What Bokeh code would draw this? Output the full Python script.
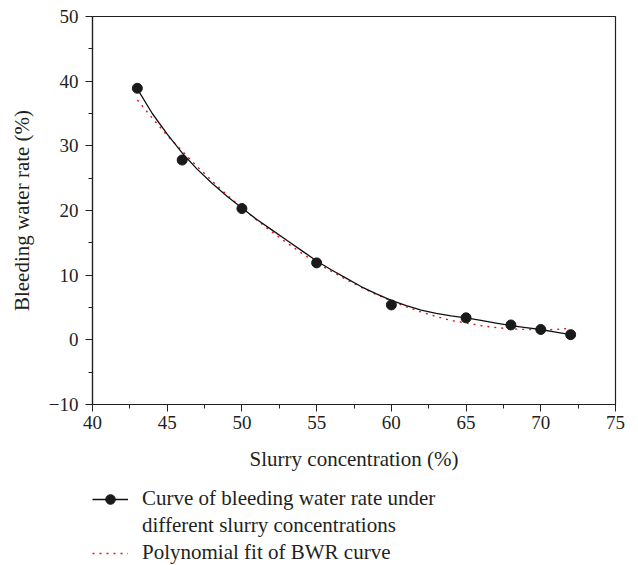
from bokeh.plotting import figure
from bokeh.layouts import column
from bokeh.models import FixedTicker, Legend, LegendItem, Range1d
from bokeh.embed import file_html
from bokeh.resources import INLINE

# measured points
conc = [43, 46, 50, 55, 60, 65, 68, 70, 72]
bwr = [38.9, 27.8, 20.3, 11.9, 5.4, 3.4, 2.3, 1.6, 0.8]

# smooth curve
curve_x = [43, 44, 45, 46, 47, 48, 49, 50, 51, 52, 53, 54, 55, 56, 57, 58,
           59, 60, 61, 62, 63, 64, 65, 66, 67, 68, 69, 70, 71, 72]
curve_y = [38.8, 35.0, 31.8, 28.9, 26.4, 24.2, 22.2, 20.4, 18.6, 17.0, 15.4,
           13.8, 12.2, 10.8, 9.5, 8.2, 7.1, 6.1, 5.3, 4.6, 4.1, 3.7, 3.4, 3.0,
           2.6, 2.2, 1.9, 1.6, 1.2, 0.8]

# polynomial fit
fit_x = curve_x
fit_y = [37.1, 34.3, 31.6, 29.2, 26.8, 24.6, 22.4, 20.4, 18.5, 16.7, 15.0,
         13.4, 11.9, 10.6, 9.3, 8.1, 7.0, 6.0, 5.1, 4.3, 3.6, 3.0, 2.6, 2.2,
         1.9, 1.7, 1.6, 1.55, 1.6, 1.8]

x_ticks = [40, 45, 50, 55, 60, 65, 70, 75]
x_minor = [42.5, 47.5, 52.5, 57.5, 62.5, 67.5, 72.5]
y_ticks = [-10, 0, 10, 20, 30, 40, 50]
y_minor = [-5, 5, 15, 25, 35, 45]

label_curve_1 = "Curve of bleeding water rate under"
label_curve_2 = "different slurry concentrations"
label_fit = "Polynomial fit of BWR curve"

FONT = "Liberation Serif"
TXT = "#231f20"
BLACK = "#111111"
RED = "#e8141c"

p = figure(width=638, height=478, output_backend="svg",
           toolbar_location=None, x_range=Range1d(40, 75), y_range=Range1d(-10, 50),
           min_border_left=92, min_border_right=23, min_border_top=16,
           min_border_bottom=74)
p.background_fill_color = "white"
p.border_fill_color = "white"
p.outline_line_color = TXT
p.outline_line_width = 1.2
p.grid.visible = False

p.xaxis.ticker = FixedTicker(ticks=x_ticks, minor_ticks=x_minor)
p.yaxis.ticker = FixedTicker(ticks=y_ticks, minor_ticks=y_minor)
p.yaxis.major_label_overrides = {-10: "\u221210"}

for ax in (p.xaxis, p.yaxis):
    ax.axis_line_color = TXT
    ax.axis_line_width = 1.2
    ax.major_tick_line_color = TXT
    ax.minor_tick_line_color = TXT
    ax.major_tick_out = 7
    ax.major_tick_in = 0
    ax.minor_tick_out = 4
    ax.minor_tick_in = 0
    ax.major_label_text_font = FONT
    ax.major_label_text_font_size = "19px"
    ax.major_label_text_color = TXT
    ax.axis_label_text_font = FONT
    ax.axis_label_text_font_size = "21px"
    ax.axis_label_text_color = TXT
    ax.axis_label_text_font_style = "normal"

p.xaxis.axis_label = "Slurry concentration (%)"
p.yaxis.axis_label = "Bleeding water rate (%)"
p.xaxis.major_label_standoff = 4
p.yaxis.major_label_standoff = 7
p.xaxis.axis_label_standoff = 15
p.yaxis.axis_label_standoff = 12

p.line(fit_x, fit_y, line_color=RED, line_width=1.4, line_dash="2 5")
p.line(curve_x, curve_y, line_color=BLACK, line_width=1.3)
p.scatter(conc, bwr, size=10, marker="circle", fill_color="#1a1a1a",
          line_color="#1a1a1a")

# legend area below the chart; its renderers use the same data but lie
# outside this small panel's ranges, so only the legend swatches show
q = figure(width=638, height=87, output_backend="svg", toolbar_location=None,
           x_range=Range1d(0, 1), y_range=Range1d(0, 1),
           min_border=0, x_axis_type=None, y_axis_type=None)
q.outline_line_color = None
q.grid.visible = False
q.background_fill_color = "white"
q.border_fill_color = "white"
l_crv = q.line(curve_x, curve_y, line_color=BLACK, line_width=1.3)
l_pts = q.scatter(conc, bwr, size=8, marker="circle", fill_color="#1a1a1a",
                  line_color="#1a1a1a")
l_none = q.line(curve_x, curve_y, line_alpha=0)
l_fit = q.line(fit_x, fit_y, line_color=RED, line_width=1.4, line_dash="2 5")

legend = Legend(items=[LegendItem(label=label_curve_1, renderers=[l_crv, l_pts]),
                       LegendItem(label=label_curve_2, renderers=[l_none]),
                       LegendItem(label=label_fit, renderers=[l_fit])],
                location=(0, 0), orientation="vertical")
legend.label_text_font = FONT
legend.label_text_font_size = "21px"
legend.label_text_color = TXT
legend.label_height = 24
legend.glyph_height = 24
legend.glyph_width = 36
legend.label_standoff = 14
legend.spacing = 2
legend.border_line_alpha = 0
legend.background_fill_alpha = 0
legend.padding = 0
legend.margin = 0
q.add_layout(legend, "center")

layout = column(p, q, spacing=0)
open("out.html", "w").write(file_html(layout, INLINE))
